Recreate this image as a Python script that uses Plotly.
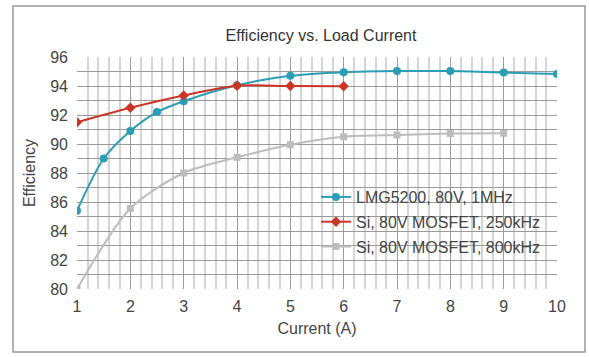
import plotly.graph_objects as go

# Data
x_lmg = [1, 1.5, 2, 2.5, 3, 4, 5, 6, 7, 8, 9, 10]
y_lmg = [85.4, 89.0, 90.9, 92.2, 92.95, 94.05, 94.7, 94.95, 95.03, 95.03, 94.93, 94.82]
x_si250 = [1, 2, 3, 4, 5, 6]
y_si250 = [91.5, 92.5, 93.35, 94.02, 94.0, 93.98]
x_si800 = [1, 2, 3, 4, 5, 6, 7, 8, 9]
y_si800 = [80.0, 85.55, 88.0, 89.08, 89.95, 90.5, 90.62, 90.72, 90.74]
names = ["LMG5200, 80V, 1MHz", "Si, 80V MOSFET, 250kHz", "Si, 80V MOSFET, 800kHz"]

FONT = "Liberation Sans, Arial, sans-serif"
TXT = "#444444"

fig = go.Figure()
fig.add_trace(go.Scatter(x=x_lmg, y=y_lmg, name=names[0], mode="lines+markers",
                         line=dict(color="#2b9db5", width=2, shape="spline", smoothing=0.8),
                         marker=dict(symbol="circle", size=8, color="#2b9db5"),
                         legendgroup="a"))
fig.add_trace(go.Scatter(x=x_si250, y=y_si250, name=names[1], mode="lines+markers",
                         line=dict(color="#cc3526", width=2, shape="spline", smoothing=0.8),
                         marker=dict(symbol="diamond", size=8, color="#cc3526"),
                         legendgroup="b"))
fig.add_trace(go.Scatter(x=x_si800, y=y_si800, name=names[2], mode="lines+markers",
                         line=dict(color="#bdbdbd", width=2, shape="spline", smoothing=0.8),
                         marker=dict(symbol="square", size=7, color="#bdbdbd"),
                         legendgroup="c"))

L, R, T, B = 77, 32, 57, 68
W, H = 589, 357
pw, ph = W - L - R, H - T - B

fig.update_layout(
    width=W, height=H,
    margin=dict(l=L, r=R, t=T, b=B),
    paper_bgcolor="white", plot_bgcolor="white",
    font=dict(family=FONT, color=TXT, size=16),
    title=dict(text="Efficiency vs. Load Current", x=(L + pw / 2 + 4) / W, xanchor="center",
               y=1 - 35 / H, yanchor="middle", font=dict(size=16, color="#333333")),
    showlegend=True,
    legend=dict(x=(316 - L) / pw, y=(289 - 180) / ph, xanchor="left", yanchor="top",
                bgcolor="rgba(0,0,0,0)", font=dict(size=16, color=TXT),
                traceorder="grouped", tracegroupgap=1, itemwidth=30),
    xaxis=dict(range=[1, 10], dtick=1, tick0=1, showgrid=True, gridcolor="#9a9a9a", gridwidth=1,
               zeroline=False, showline=False, ticks="", ticklabelstandoff=6,
               minor=dict(dtick=0.2, showgrid=True, gridcolor="#d4d4d4", gridwidth=2),
               title=dict(text="Current (A)", standoff=8, font=dict(size=16)),
               tickfont=dict(size=16)),
    yaxis=dict(range=[80, 96], dtick=2, tick0=80, showgrid=True, gridcolor="#9a9a9a", gridwidth=1,
               zeroline=False, showline=False, ticks="", ticklabelstandoff=8,
               minor=dict(dtick=1, showgrid=True, gridcolor="#9a9a9a", gridwidth=1),
               title=dict(text="Efficiency", standoff=10, font=dict(size=16)),
               tickfont=dict(size=16)),
)

# Outer frame
fig.add_shape(type="rect", xref="paper", yref="paper",
              x0=(13 - L) / pw, x1=(585 - L) / pw,
              y0=(H - B - 352) / ph, y1=(H - B - 6) / ph,
              line=dict(color="#999999", width=1.5), fillcolor="rgba(0,0,0,0)", layer="below")

fig.write_html("out.html", config={"displayModeBar": False},
               post_script="document.body.style.margin='0';document.body.style.overflow='hidden';")
